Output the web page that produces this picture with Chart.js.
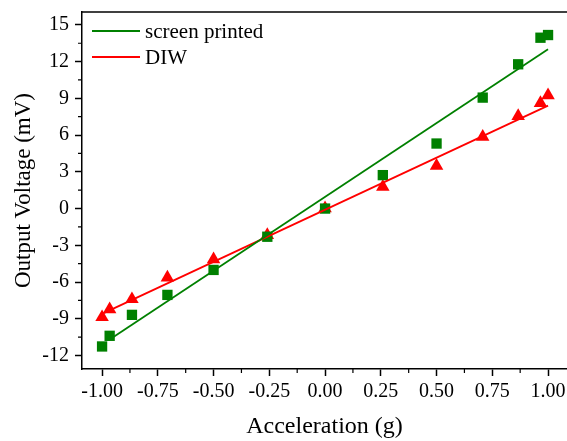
<!DOCTYPE html>
<html>
<head>
<meta charset="utf-8">
<script src="https://cdn.jsdelivr.net/npm/chart.js@4"></script>
<style>
  html, body { margin: 0; padding: 0; background: #fff; overflow: hidden; }
  #wrap { width: 567px; height: 441px; position: relative; }
</style>
</head>
<body>
<div id="wrap"><canvas id="chart"></canvas></div>
<script>
// acceleration values (g), cosine of tilt angle
const accel = [-1, -0.966, -0.866, -0.707, -0.5, -0.259, 0, 0.259, 0.5, 0.707, 0.866, 0.966, 1];

// output voltage (mV)
const screenPrinted = [-11.26, -10.39, -8.68, -7.05, -5.01, -2.30, 0.0, 2.73, 5.31, 9.06, 11.78, 13.95, 14.17];
const diw = [-8.87, -8.22, -7.40, -5.64, -4.14, -2.16, 0.02, 1.78, 3.49, 5.85, 7.56, 8.62, 9.25];

// linear fit end points
const screenFitX = [-0.966, 1];
const screenFit = [-10.7, 13.0];
const diwFitX = [-1, 1];
const diwFit = [-8.6, 8.4];

const xTicks = [-1, -0.75, -0.5, -0.25, 0, 0.25, 0.5, 0.75, 1];
const yTicks = [-12, -9, -6, -3, 0, 3, 6, 9, 12, 15];

const green = "#008000";
const red = "#FF0000";
const serif = "'Liberation Serif', 'Times New Roman', serif";

function points(xs, ys) {
    return xs.map((x, i) => ({ x: x, y: ys[i] }));
}

// minor ticks, top frame and the inside legend
const extras = {
    id: "extras",
    afterDraw(chart) {
        const ctx = chart.ctx;
        const area = chart.chartArea;
        const xs = chart.scales.x;
        const ys = chart.scales.y;
        ctx.save();
        ctx.strokeStyle = "#000";
        ctx.lineWidth = 1.5;
        ctx.beginPath();
        ctx.moveTo(area.left, area.top);
        ctx.lineTo(area.right + 2, area.top);
        ctx.stroke();

        ctx.lineWidth = 1.2;
        ctx.beginPath();
        for (let i = 0; i < xTicks.length - 1; i++) {
            const px = xs.getPixelForValue((xTicks[i] + xTicks[i + 1]) / 2);
            ctx.moveTo(px, area.bottom);
            ctx.lineTo(px, area.bottom + 4);
        }
        for (let i = 0; i < yTicks.length - 1; i++) {
            const py = ys.getPixelForValue((yTicks[i] + yTicks[i + 1]) / 2);
            ctx.moveTo(area.left, py);
            ctx.lineTo(area.left - 4, py);
        }
        ctx.stroke();

        const items = [chart.data.datasets[0], chart.data.datasets[1]];
        ctx.font = "21px " + serif;
        ctx.textBaseline = "middle";
        ctx.textAlign = "left";
        items.forEach((ds, i) => {
            const y = area.top + 19 + i * 26;
            ctx.strokeStyle = ds.borderColor;
            ctx.lineWidth = 1.8;
            ctx.beginPath();
            ctx.moveTo(area.left + 10, y);
            ctx.lineTo(area.left + 58, y);
            ctx.stroke();
            ctx.fillStyle = "#000";
            ctx.fillText(ds.label, area.left + 63, y + 1);
        });
        ctx.restore();
    }
};

new Chart(document.getElementById("chart"), {
    type: "scatter",
    data: {
        datasets: [
            {
                label: "screen printed",
                data: points(screenFitX, screenFit),
                showLine: true,
                borderColor: green,
                borderWidth: 1.8,
                pointRadius: 0
            },
            {
                label: "DIW",
                data: points(diwFitX, diwFit),
                showLine: true,
                borderColor: red,
                borderWidth: 1.8,
                pointRadius: 0
            },
            {
                label: "screen printed data",
                data: points(accel, screenPrinted),
                pointStyle: "rect",
                pointRadius: 7.3,
                backgroundColor: green,
                borderColor: green,
                borderWidth: 0
            },
            {
                label: "DIW data",
                data: points(accel, diw),
                pointStyle: "triangle",
                pointRadius: 7.8,
                backgroundColor: red,
                borderColor: red,
                borderWidth: 0
            }
        ]
    },
    options: {
        responsive: true,
        maintainAspectRatio: false,
        animation: false,
        layout: { autoPadding: false, padding: { top: 12, left: 0, right: 0, bottom: 0 } },
        plugins: {
            legend: { display: false },
            tooltip: { enabled: false }
        },
        scales: {
            x: {
                type: "linear",
                min: -1.09,
                max: 1.085,
                afterFit: s => { s.height = 72; s.paddingLeft = 0; s.paddingRight = 0; },
                afterBuildTicks: s => { s.ticks = xTicks.map(v => ({ value: v })); },
                ticks: {
                    color: "#000",
                    padding: 4,
                    maxRotation: 0,
                    font: { family: serif, size: 20 },
                    callback: v => v.toFixed(2)
                },
                grid: {
                    drawOnChartArea: false,
                    tickLength: 7,
                    tickWidth: 1.5,
                    tickColor: "#000"
                },
                border: { color: "#000", width: 1.5 },
                title: {
                    display: true,
                    text: "Acceleration (g)",
                    color: "#000",
                    font: { family: serif, size: 24 },
                    padding: { top: 0, bottom: 0 }
                }
            },
            y: {
                type: "linear",
                min: -13.1,
                max: 16.05,
                afterFit: s => { s.width = 82; s.paddingTop = 0; s.paddingBottom = 0; },
                afterBuildTicks: s => { s.ticks = yTicks.map(v => ({ value: v })); },
                ticks: {
                    color: "#000",
                    padding: 6,
                    font: { family: serif, size: 20 }
                },
                grid: {
                    drawOnChartArea: false,
                    tickLength: 7,
                    tickWidth: 1.5,
                    tickColor: "#000"
                },
                border: { color: "#000", width: 1.5 },
                title: {
                    display: true,
                    text: "Output Voltage (mV)",
                    color: "#000",
                    font: { family: serif, size: 23 },
                    padding: { top: 10, bottom: 0 }
                }
            }
        }
    },
    plugins: [extras]
});
</script>
</body>
</html>
